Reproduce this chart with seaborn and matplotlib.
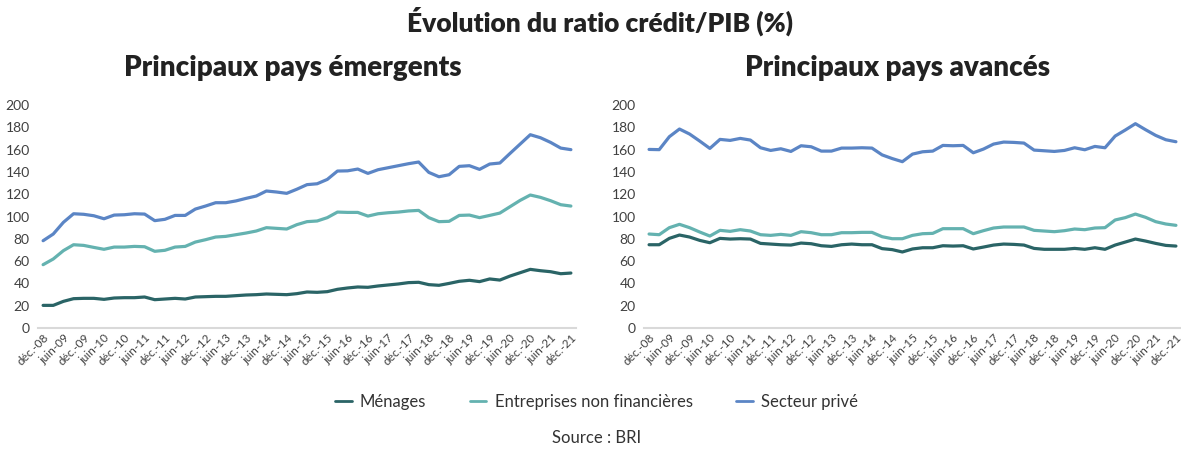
import numpy as np
import pandas as pd
import matplotlib
matplotlib.use("Agg")
import matplotlib.pyplot as plt
import seaborn as sns

# Données trimestrielles, déc-08 à déc-21 (53 points)
tick_labels = ["déc.-08", "juin-09", "déc.-09", "juin-10", "déc.-10", "juin-11", "déc.-11",
               "juin-12", "déc.-12", "juin-13", "déc.-13", "juin-14", "déc.-14", "juin-15",
               "déc.-15", "juin-16", "déc.-16", "juin-17", "déc.-17", "juin-18", "déc.-18",
               "juin-19", "déc.-19", "juin-20", "déc.-20", "juin-21", "déc.-21"]

series_names = ["Ménages", "Entreprises non financières", "Secteur privé"]

# Principaux pays émergents
em_menages = [20.3, 20.3, 23.9, 26.3, 26.6, 26.6, 25.7, 26.9, 27.2, 27.2, 27.8, 25.4, 26.0,
              26.6, 26.0, 27.8, 28.1, 28.4, 28.4, 29.0, 29.6, 29.9, 30.5, 30.2, 29.9, 30.8,
              32.3, 32.0, 32.6, 34.7, 35.9, 36.8, 36.5, 37.7, 38.6, 39.5, 40.7, 41.0, 38.9,
              38.3, 40.0, 41.9, 42.8, 41.6, 44.0, 43.0, 46.6, 49.6, 52.6, 51.4, 50.5, 48.7, 49.3]
em_entreprises = [56.8, 61.9, 69.4, 74.7, 74.1, 72.3, 70.6, 72.6, 72.6, 73.2, 72.9, 68.8, 69.7,
                  72.6, 73.2, 77.1, 79.2, 81.6, 82.2, 83.7, 85.2, 87.0, 90.0, 89.4, 88.8, 92.7,
                  95.4, 96.0, 99.0, 104.0, 103.7, 103.7, 100.4, 102.5, 103.4, 104.0, 105.0, 105.5,
                  99.0, 95.4, 95.7, 101.0, 101.3, 99.0, 101.0, 103.1, 108.8, 114.5, 119.3, 117.2,
                  114.2, 110.6, 109.4]
em_prive = [78.3, 84.3, 94.8, 102.5, 102.0, 100.7, 98.0, 101.3, 101.6, 102.5, 102.2, 96.3, 97.5,
            101.0, 101.0, 106.7, 109.4, 112.4, 112.4, 114.0, 116.3, 118.4, 122.9, 122.0, 120.8,
            124.5, 128.6, 129.4, 133.3, 140.8, 141.0, 142.6, 138.7, 142.0, 143.8, 145.6, 147.4,
            148.9, 139.6, 135.7, 137.5, 145.0, 145.6, 142.3, 147.1, 148.0, 156.6, 165.0, 173.4,
            170.7, 166.5, 161.4, 160.0]

# Principaux pays avancés
av_menages = [74.7, 74.7, 80.4, 83.4, 81.6, 78.6, 76.5, 80.4, 79.8, 80.1, 79.8, 75.9, 75.3,
              74.7, 74.4, 76.2, 75.6, 73.8, 73.2, 74.7, 75.3, 74.7, 74.7, 71.2, 70.3, 68.2,
              70.9, 72.0, 72.0, 73.8, 73.5, 73.8, 70.9, 72.6, 74.4, 75.3, 75.0, 74.4, 71.4,
              70.6, 70.6, 70.6, 71.4, 70.6, 72.0, 70.6, 74.4, 77.1, 79.8, 78.0, 75.9, 74.1, 73.5]
av_entreprises = [84.3, 83.7, 90.0, 93.0, 90.0, 86.1, 82.5, 87.6, 86.7, 88.2, 87.0, 83.7, 83.1,
                  84.0, 83.1, 86.4, 85.5, 83.7, 83.7, 85.5, 85.5, 85.8, 85.8, 81.9, 80.1, 80.1,
                  83.1, 84.6, 84.9, 89.1, 89.1, 89.1, 84.6, 87.3, 89.7, 90.6, 90.6, 90.6, 87.6,
                  87.0, 86.4, 87.3, 88.8, 88.2, 89.7, 90.0, 96.9, 99.0, 102.2, 99.3, 95.4, 93.3, 92.1]
av_prive = [160.2, 160.0, 171.6, 178.5, 174.0, 167.7, 161.1, 169.2, 168.3, 170.1, 168.6, 161.7,
            159.3, 160.8, 158.4, 163.5, 162.6, 158.7, 158.7, 161.4, 161.4, 161.7, 161.4, 155.3,
            152.0, 149.2, 156.0, 158.1, 158.7, 163.8, 163.5, 163.8, 157.2, 160.5, 165.0, 166.8,
            166.5, 165.9, 159.6, 159.0, 158.4, 159.3, 161.7, 159.9, 162.9, 161.7, 172.2, 177.6,
            183.3, 177.9, 172.8, 168.9, 167.1]

colors = ["#2a6466", "#64b2b0", "#5b85c5"]


def to_long(menages, entreprises, prive):
    frames = []
    for name, vals in zip(series_names, [menages, entreprises, prive]):
        frames.append(pd.DataFrame({"t": np.arange(len(vals)), "valeur": vals, "serie": name}))
    return pd.concat(frames, ignore_index=True)


em_df = to_long(em_menages, em_entreprises, em_prive)
av_df = to_long(av_menages, av_entreprises, av_prive)

sns.set_style("white")
plt.rcParams["font.family"] = ["Lato", "DejaVu Sans"]

fig = plt.figure(figsize=(11.81, 4.49), dpi=100)
ax_em = fig.add_axes([0.0322, 0.2695, 0.4555, 0.4965])
ax_av = fig.add_axes([0.5453, 0.2695, 0.4547, 0.4965])

for ax, df in [(ax_em, em_df), (ax_av, av_df)]:
    sns.lineplot(data=df, x="t", y="valeur", hue="serie", hue_order=series_names,
                 palette=colors, linewidth=2.3, ax=ax, legend=False)
    ax.set_xlim(-0.5, len(em_menages) - 0.5)
    ax.set_ylim(0, 200)
    ax.set_yticks(range(0, 201, 20))
    ax.set_xticks(range(0, len(em_menages), 2))
    ax.set_xticklabels(tick_labels, rotation=45, ha="right", rotation_mode="anchor",
                       fontsize=8.5, color="#404040")
    ax.tick_params(axis="y", labelsize=10, colors="#404040", length=0, pad=6)
    ax.tick_params(axis="x", length=0, pad=3)
    ax.set_xlabel("")
    ax.set_ylabel("")
    for s in ["top", "right", "left"]:
        ax.spines[s].set_visible(False)
    ax.spines["bottom"].set_color("#d9d9d9")
    ax.spines["bottom"].set_linewidth(1.5)
    ax.patch.set_alpha(0)

fig.text(0.508, 0.952, "Évolution du ratio crédit/PIB (%)", ha="center", va="center",
         fontsize=19, fontweight="heavy", color="#222222")
fig.text(0.248, 0.848, "Principaux pays émergents", ha="center", va="center",
         fontsize=20, fontweight="heavy", color="#222222")
fig.text(0.76, 0.848, "Principaux pays avancés", ha="center", va="center",
         fontsize=20, fontweight="heavy", color="#222222")

handles = [plt.Line2D([], [], color=c, linewidth=2) for c in colors]
fig.legend(handles, series_names, loc="center", bbox_to_anchor=(0.505, 0.105), ncol=3,
           frameon=False, fontsize=12, handlelength=1.0, handletextpad=0.5,
           columnspacing=2.6, labelcolor="#333333")
fig.text(0.505, 0.025, "Source : BRI", ha="center", va="center", fontsize=12, color="#333333")

fig.savefig("out.png", dpi=100)
